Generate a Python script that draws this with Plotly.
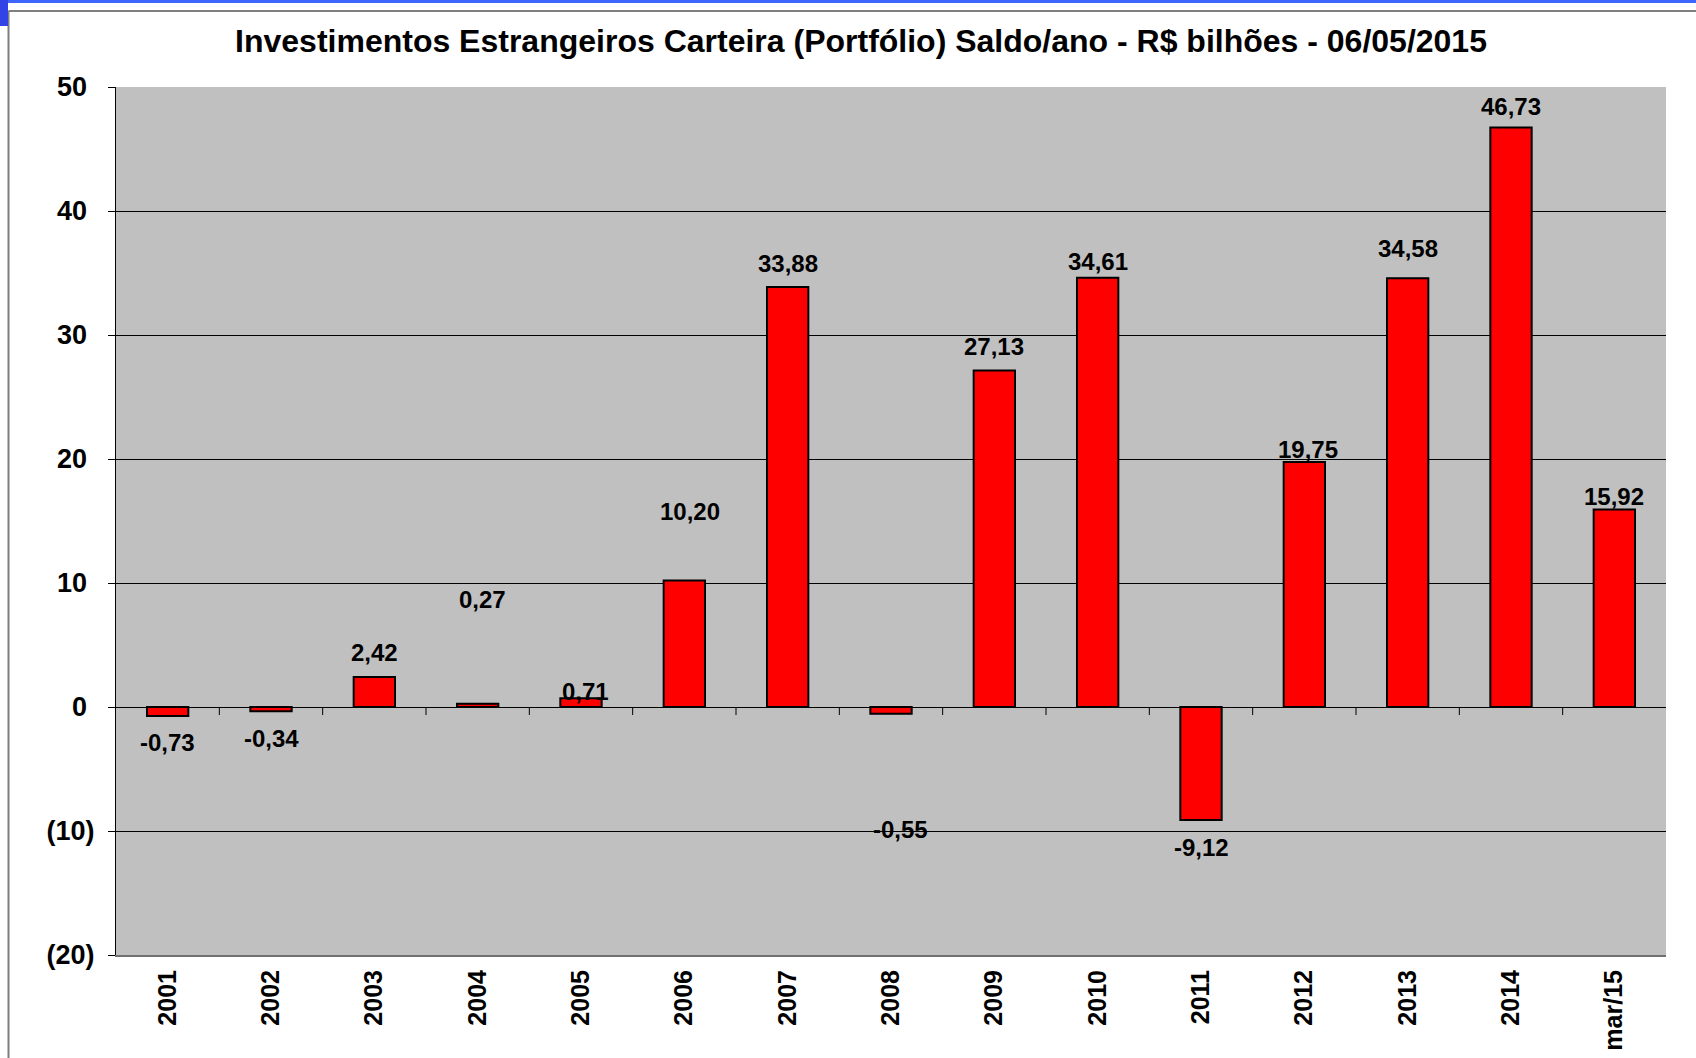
import plotly.graph_objects as go

# ---- data ----
categories = ["2001", "2002", "2003", "2004", "2005", "2006", "2007", "2008",
              "2009", "2010", "2011", "2012", "2013", "2014", "mar/15"]
values = [-0.73, -0.34, 2.42, 0.27, 0.71, 10.20, 33.88, -0.55,
          27.13, 34.61, -9.12, 19.75, 34.58, 46.73, 15.92]
y_tick_values = [-20, -10, 0, 10, 20, 30, 40, 50]
y_tick_labels = ["(20)", "(10)", "0\u00a0", "10\u00a0", "20\u00a0", "30\u00a0", "40\u00a0", "50\u00a0"]
title_text = "Investimentos Estrangeiros Carteira (Portfólio) Saldo/ano - R$ bilhões - 06/05/2015"

# label placement (data-unit y of each value label, and horizontal pixel nudges)
label_y = [-2.9, -2.5, 4.4, 8.65, 1.25, 15.8, 35.8, -9.9,
           29.1, 35.9, -11.3, 20.8, 37.0, 48.4, 17.0]
label_dx = [0, 0, 0, 5, 4, 6, 0, 9, 0, 0, 0, 4, 0, 0, 0]

W, H = 1696, 1058
L, R, T, B = 116, 30, 87, 103
PW, PH = W - L - R, H - T - B

FONT = "Liberation Sans, Arial, sans-serif"


def px_x(p):
    return (p - L) / PW


def px_y(p):
    return (H - B - p) / PH


fig = go.Figure()
fig.add_trace(go.Bar(
    x=categories, y=values,
    marker=dict(color="#FF0000", line=dict(color="#000000", width=2)),
    hoverinfo="x+y",
))

annotations = []
for i, (v, ly, dx) in enumerate(zip(values, label_y, label_dx)):
    annotations.append(dict(
        x=i, y=ly, xref="x", yref="y", showarrow=False,
        text=f"{v:.2f}".replace(".", ","), xshift=dx,
        xanchor="center", yanchor="middle",
        font=dict(family=FONT, size=24, color="#000000", weight="bold"),
    ))

shapes = []
# category boundary ticks on the zero line
for i in range(1, len(categories)):
    shapes.append(dict(
        type="line", xref="x", yref="y", ysizemode="pixel", yanchor=0,
        x0=i - 0.5, x1=i - 0.5, y0=0, y1=-8,
        line=dict(color="#000000", width=1), layer="above",
    ))
# outer chart frame (grey)
shapes.append(dict(type="line", xref="paper", yref="paper",
                   x0=px_x(8.5), x1=px_x(8.5), y0=px_y(11), y1=px_y(H + 5),
                   line=dict(color="#7F7F7F", width=2)))
shapes.append(dict(type="line", xref="paper", yref="paper",
                   x0=px_x(8.5), x1=px_x(W + 5), y0=px_y(11), y1=px_y(11),
                   line=dict(color="#7F7F7F", width=2)))
# blue selection marks at the top-left
shapes.append(dict(type="rect", xref="paper", yref="paper",
                   x0=px_x(-2), x1=px_x(W + 2), y0=px_y(3), y1=px_y(-2),
                   line=dict(width=0), fillcolor="#3D66FF"))
shapes.append(dict(type="rect", xref="paper", yref="paper",
                   x0=px_x(-2), x1=px_x(8), y0=px_y(26), y1=px_y(-2),
                   line=dict(width=0), fillcolor="#3344E6"))

fig.update_layout(
    width=W, height=H,
    margin=dict(l=L, r=R, t=T, b=B, autoexpand=False),
    paper_bgcolor="#FFFFFF",
    plot_bgcolor="#C0C0C0",
    showlegend=False,
    bargap=0.6,
    title=dict(
        text=title_text, x=861 / W, xref="container", xanchor="center",
        y=1 - 41 / H, yref="container", yanchor="middle",
        font=dict(family=FONT, size=32, color="#000000", weight="bold"),
    ),
    xaxis=dict(
        type="category", categoryorder="array", categoryarray=categories,
        range=[-0.5, len(categories) - 0.5],
        showgrid=False, zeroline=False,
        showline=True, linecolor="#707070", linewidth=2,
        ticks="", tickangle=-90,
        tickfont=dict(family=FONT, size=25, color="#000000", weight="bold"),
        ticklabelstandoff=3,
        fixedrange=True,
    ),
    yaxis=dict(
        range=[-20, 50], tickvals=y_tick_values, ticktext=y_tick_labels,
        showgrid=True, gridcolor="#000000", gridwidth=1,
        zeroline=True, zerolinecolor="#000000", zerolinewidth=1,
        showline=True, linecolor="#000000", linewidth=1,
        ticks="outside", ticklen=7, tickcolor="#000000", tickwidth=1,
        tickfont=dict(family=FONT, size=27, color="#000000", weight="bold"),
        ticklabelstandoff=8,
        fixedrange=True,
    ),
    annotations=annotations,
    shapes=shapes,
)

fig.write_html(
    "out.html",
    config={"displayModeBar": False},
    post_script="document.body.style.margin='0';document.body.style.overflow='hidden';",
)
